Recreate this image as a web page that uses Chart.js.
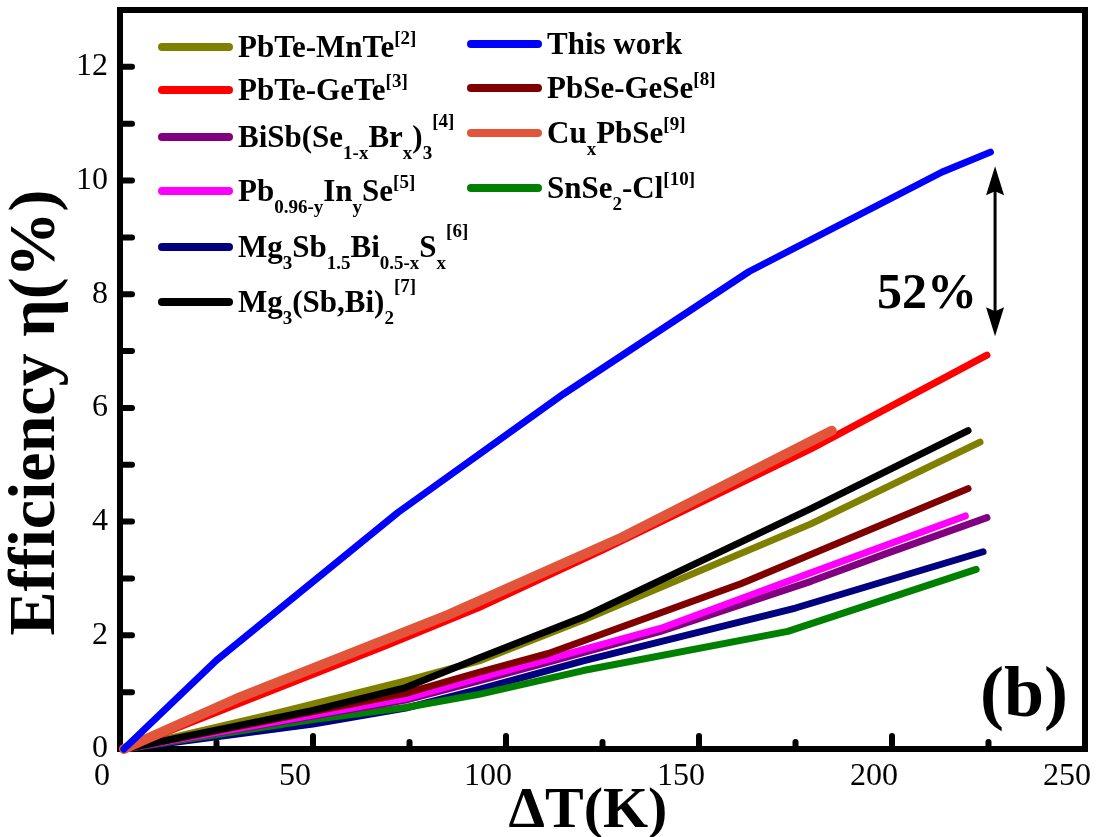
<!DOCTYPE html>
<html>
<head>
<title>Efficiency vs dT</title>
<script src="https://cdn.jsdelivr.net/npm/chart.js"></script>
<style>
  html, body { margin: 0; padding: 0; background: #fff; }
</style>
</head>
<body>
<canvas id="effChart" width="1098" height="837"></canvas>
<script>
// values (x = dT in K, y = efficiency in %)
const mnteX = [1, 40, 74, 93, 120, 179, 222.8];
const mnteY = [0, 0.62, 1.2, 1.55, 2.27, 3.96, 5.4];
const geteX = [1, 30, 69, 93, 125, 179, 224.6];
const geteY = [0, 0.78, 1.82, 2.49, 3.5, 5.28, 6.93];
const bisbX = [1, 74, 93, 111, 140, 179, 199, 224.6];
const bisbY = [0, 0.86, 1.2, 1.53, 2.07, 2.95, 3.45, 4.07];
const pbinX = [1, 74, 93, 111, 140, 179, 219];
const pbinY = [0, 0.89, 1.25, 1.58, 2.12, 3.1, 4.1];
const mgsX = [1, 50, 74, 93, 120, 175, 223.6];
const mgsY = [0, 0.44, 0.72, 1.05, 1.55, 2.48, 3.47];
const mgbiX = [1, 50, 74, 93, 120, 179, 219.7];
const mgbiY = [0, 0.68, 1.08, 1.6, 2.32, 4.23, 5.6];
const thisWorkX = [1, 25, 72, 115, 163, 213, 225.5];
const thisWorkY = [0, 1.56, 4.16, 6.25, 8.4, 10.15, 10.5];
const geseX = [1, 74, 93, 111, 161, 219.7];
const geseY = [0, 0.98, 1.35, 1.68, 2.91, 4.58];
const cuX = [1, 30, 85, 130, 184.4];
const cuY = [0, 0.88, 2.36, 3.72, 5.6];
const snX = [1, 50, 74, 93, 120, 173, 221.8];
const snY = [0, 0.52, 0.73, 0.96, 1.38, 2.07, 3.16];

const xTicks = [0, 50, 100, 150, 200, 250];
const yTicks = [0, 2, 4, 6, 8, 10, 12];

const serif = '"Liberation Serif", "Times New Roman", serif';

function pts(xs, ys) {
  return xs.map((x, i) => ({ x: x, y: ys[i] }));
}

// legend labels as [text, kind] pieces so sub/superscripts can be drawn
const datasets = [
  { label: 'PbTe-MnTe[2]', rich: [['PbTe-MnTe'], ['[2]', 'sup']], data: pts(mnteX, mnteY), borderColor: '#808000', order: 4 },
  { label: 'PbTe-GeTe[3]', rich: [['PbTe-GeTe'], ['[3]', 'sup']], data: pts(geteX, geteY), borderColor: '#ff0000', order: 2 },
  { label: 'BiSb(Se1-xBrx)3[4]', rich: [['BiSb(Se'], ['1-x', 'sub'], ['Br'], ['x', 'sub'], [')'], ['3', 'sub'], ['[4]', 'sup']], data: pts(bisbX, bisbY), borderColor: '#800080', order: 7 },
  { label: 'Pb0.96-yInySe[5]', rich: [['Pb'], ['0.96-y', 'sub'], ['In'], ['y', 'sub'], ['Se'], ['[5]', 'sup']], data: pts(pbinX, pbinY), borderColor: '#ff00ff', order: 6 },
  { label: 'Mg3Sb1.5Bi0.5-xSx[6]', rich: [['Mg'], ['3', 'sub'], ['Sb'], ['1.5', 'sub'], ['Bi'], ['0.5-x', 'sub'], ['S'], ['x', 'sub'], ['[6]', 'sup']], data: pts(mgsX, mgsY), borderColor: '#000080', order: 9 },
  { label: 'Mg3(Sb,Bi)2[7]', rich: [['Mg'], ['3', 'sub'], ['(Sb,Bi)'], ['2', 'sub'], ['[7]', 'sup']], data: pts(mgbiX, mgbiY), borderColor: '#000000', order: 3 },
  { label: 'This work', rich: [['This work']], data: pts(thisWorkX, thisWorkY), borderColor: '#0000ff', order: 0 },
  { label: 'PbSe-GeSe[8]', rich: [['PbSe-GeSe'], ['[8]', 'sup']], data: pts(geseX, geseY), borderColor: '#800000', order: 5 },
  { label: 'CuxPbSe[9]', rich: [['Cu'], ['x', 'sub'], ['PbSe'], ['[9]', 'sup']], data: pts(cuX, cuY), borderColor: '#e2553a', order: 1, borderWidth: 10 },
  { label: 'SnSe2-Cl[10]', rich: [['SnSe'], ['2', 'sub'], ['-Cl'], ['[10]', 'sup']], data: pts(snX, snY), borderColor: '#008000', order: 8 }
];

// thick frame and inward ticks, drawn under the curves
const framePlugin = {
  id: 'frame',
  beforeDatasetsDraw(chart) {
    const { ctx, chartArea: a, scales } = chart;
    const x = scales.x, y = scales.y;
    ctx.save();
    ctx.strokeStyle = '#000';
    ctx.lineCap = 'round';
    ctx.lineWidth = 6;
    for (let v = x.min + 25; v < x.max; v += 25) {
      const px = x.getPixelForValue(v);
      const len = v % 50 === 0 ? 13 : 7;
      ctx.beginPath(); ctx.moveTo(px, a.bottom); ctx.lineTo(px, a.bottom - len); ctx.stroke();
    }
    for (let v = y.min + 1; v < y.max; v += 1) {
      const py = y.getPixelForValue(v);
      ctx.beginPath(); ctx.moveTo(a.left, py); ctx.lineTo(a.left + 12, py); ctx.stroke();
    }
    ctx.lineCap = 'butt';
    ctx.lineWidth = 6;
    ctx.strokeRect(a.left, a.top, a.right - a.left, a.bottom - a.top);
    ctx.restore();
  }
};

const legendPlugin = {
  id: 'richLegend',
  afterDraw(chart, args, opts) {
    const ctx = chart.ctx;
    ctx.save();
    chart.data.datasets.forEach((ds, i) => {
      const col = i < opts.perColumn ? 0 : 1;
      const row = col === 0 ? i : i - opts.perColumn;
      const x0 = opts.columnX[col];
      const yc = opts.rowY[col][row];
      ctx.strokeStyle = ds.borderColor;
      ctx.lineWidth = 8;
      ctx.lineCap = 'round';
      ctx.beginPath();
      ctx.moveTo(x0 + 4, yc);
      ctx.lineTo(x0 + opts.sampleLength - 4, yc);
      ctx.stroke();
      let tx = x0 + opts.sampleLength + opts.gap;
      let prev = '';
      ctx.fillStyle = '#000';
      ctx.textAlign = 'left';
      ctx.textBaseline = 'alphabetic';
      ds.rich.forEach(([text, kind]) => {
        let size = opts.size, dy = 0;
        if (kind === 'sub') { size = opts.smallSize; dy = opts.subDrop; }
        if (kind === 'sup') { size = opts.smallSize; dy = prev === 'sub' ? -opts.supRiseHigh : -opts.supRise; }
        ctx.font = 'bold ' + size + 'px ' + serif;
        ctx.fillText(text, tx, yc + opts.baseline + dy);
        tx += ctx.measureText(text).width;
        prev = kind || '';
      });
    });
    ctx.restore();
  }
};

const notePlugin = {
  id: 'notes',
  afterDraw(chart, args, opts) {
    const { ctx, scales: { x, y } } = chart;
    ctx.save();
    const ax = x.getPixelForValue(opts.arrow.x);
    const top = y.getPixelForValue(opts.arrow.top);
    const bot = y.getPixelForValue(opts.arrow.bottom);
    ctx.strokeStyle = '#000';
    ctx.fillStyle = '#000';
    ctx.lineWidth = 3;
    ctx.beginPath(); ctx.moveTo(ax, top + 20); ctx.lineTo(ax, bot - 20); ctx.stroke();
    ctx.beginPath(); ctx.moveTo(ax, top); ctx.lineTo(ax - 9, top + 29); ctx.lineTo(ax, top + 25); ctx.lineTo(ax + 9, top + 29); ctx.closePath(); ctx.fill();
    ctx.beginPath(); ctx.moveTo(ax, bot); ctx.lineTo(ax - 9, bot - 29); ctx.lineTo(ax, bot - 25); ctx.lineTo(ax + 9, bot - 29); ctx.closePath(); ctx.fill();
    ctx.textAlign = 'right';
    ctx.textBaseline = 'alphabetic';
    ctx.font = 'bold 50px ' + serif;
    ctx.fillText(opts.gain.text, x.getPixelForValue(opts.gain.x), y.getPixelForValue(opts.gain.y));
    ctx.font = 'bold 72px ' + serif;
    ctx.fillText(opts.panel.text, x.getPixelForValue(opts.panel.x), y.getPixelForValue(opts.panel.y));
    ctx.restore();
  }
};

new Chart(document.getElementById('effChart'), {
  type: 'line',
  data: { datasets: datasets },
  options: {
    responsive: false,
    animation: false,
    clip: false,
    layout: { padding: { left: 0, right: 13, top: 10, bottom: 0 } },
    elements: {
      point: { radius: 0 },
      line: { tension: 0, borderWidth: 7, borderCapStyle: 'round', borderJoinStyle: 'round' }
    },
    plugins: {
      legend: { display: false },
      tooltip: { enabled: false },
      richLegend: {
        perColumn: 6,
        columnX: [158, 467],
        rowY: [[47, 90, 137, 191, 247, 302], [44, 88, 133, 188]],
        sampleLength: 75,
        gap: 5,
        size: 31,
        smallSize: 19,
        baseline: 10,
        subDrop: 12,
        supRise: 13,
        supRiseHigh: 20
      },
      notes: {
        arrow: { x: 226.7, top: 10.25, bottom: 7.26 },
        gain: { text: '52%', x: 222, y: 7.75 },
        panel: { text: '(b)', x: 245.6, y: 0.58 }
      }
    },
    scales: {
      x: {
        type: 'linear',
        min: 0,
        max: 250,
        afterBuildTicks: (s) => { s.ticks = xTicks.map(v => ({ value: v })); },
        afterFit: (s) => { s.height = 88; s.paddingLeft = 0; s.paddingRight = 0; },
        ticks: { color: '#000', font: { family: serif, size: 32 }, padding: 8, labelOffset: -18, maxRotation: 0 },
        grid: { display: false, drawTicks: false },
        border: { display: false },
        title: { display: true, text: 'ΔT(K)\u00a0\u00a0', color: '#000', font: { family: serif, size: 58, weight: 'bold', lineHeight: 0.85 }, padding: { top: 0, bottom: 0 } }
      },
      y: {
        type: 'linear',
        min: 0,
        max: 13,
        afterBuildTicks: (s) => { s.ticks = yTicks.map(v => ({ value: v })); },
        afterFit: (s) => { s.width = 120; s.paddingTop = 0; s.paddingBottom = 0; },
        ticks: { color: '#000', font: { family: serif, size: 32 }, padding: 12 },
        grid: { display: false, drawTicks: false },
        border: { display: false },
        title: { display: true, text: 'Efficiency η(%)\u00a0\u00a0\u00a0\u00a0', color: '#000', font: { family: serif, size: 66, weight: 'bold', lineHeight: 1 }, padding: { top: 4, bottom: 0 } }
      }
    }
  },
  plugins: [framePlugin, legendPlugin, notePlugin]
});
</script>
</body>
</html>
